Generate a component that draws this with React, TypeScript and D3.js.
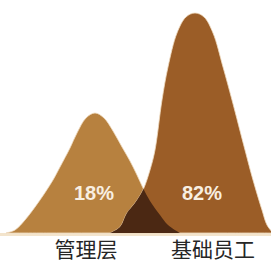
import React, { useEffect, useRef } from "react";
import * as d3 from "d3";

// categories and their shares
const categories = ["管理层", "基础员工"];
const shares = [18, 82];

// curve profiles: position along the axis -> height
const mgmtX = [6, 15, 25, 40, 53, 60, 70, 77, 86, 95, 104, 113, 122, 130, 137, 143, 150, 160, 168, 180];
const mgmtH = [0, 3, 13, 33, 53, 66, 85, 100, 115, 120, 115, 102, 86, 72, 58, 45, 32, 18, 8, 0];

const staffX = [110, 120, 127, 135, 143, 150, 155, 162, 168, 177, 186, 195, 204, 213, 223, 232, 245, 253, 262, 267, 273];
const staffH = [0, 6, 20, 30, 43, 63, 83, 133, 166, 200, 216, 220, 216, 200, 166, 133, 83, 53, 23, 8, 0];

// where each label sits along the axis
const labelPos = [94, 202];
const catPos = [86, 213];

const colors = ["#b7813f", "#9b5d27"];
const overlapColor = "#4b2813";

export default function App() {
  const ref = useRef<SVGSVGElement>(null);

  useEffect(() => {
    const w = 271;
    const svg = d3.select(ref.current);
    svg.selectAll("*").remove();

    const x = d3.scaleLinear().domain([0, 271]).range([0, w]);
    const y = d3.scaleLinear().domain([0, 220]).range([233, 13]);

    const area = d3.area<[number, number]>()
      .x(d => x(d[0]))
      .y0(y(0))
      .y1(d => y(d[1]))
      .curve(d3.curveCatmullRom.alpha(0.5));

    const mgmt = mgmtX.map((v, i) => [v, mgmtH[i]] as [number, number]);
    const staff = staffX.map((v, i) => [v, staffH[i]] as [number, number]);

    svg.append("defs")
      .append("clipPath")
      .attr("id", "mgmtClip")
      .append("path")
      .attr("d", area(mgmt));

    // baseline highlight
    svg.append("rect")
      .attr("x", x(0))
      .attr("y", y(0))
      .attr("width", w)
      .attr("height", 3)
      .attr("fill", "#f3e4cc");

    svg.append("path")
      .attr("d", area(mgmt))
      .attr("fill", colors[0])
      .attr("stroke", "#f0dcc0")
      .attr("stroke-width", 0.8);

    svg.append("path")
      .attr("d", area(staff))
      .attr("fill", colors[1])
      .attr("stroke", "#f0dcc0")
      .attr("stroke-width", 0.8);

    svg.append("path")
      .attr("d", area(staff))
      .attr("clip-path", "url(#mgmtClip)")
      .attr("fill", overlapColor);

    svg.selectAll("text.pct")
      .data(shares)
      .enter()
      .append("text")
      .attr("class", "pct")
      .attr("x", (d, i) => x(labelPos[i]))
      .attr("y", 200)
      .attr("text-anchor", "middle")
      .attr("font-family", "Liberation Sans, Arial, sans-serif")
      .attr("font-weight", "bold")
      .attr("font-size", 20)
      .attr("fill", "#f8efe2")
      .text(d => d + "%");

    svg.selectAll("text.cat")
      .data(categories)
      .enter()
      .append("text")
      .attr("class", "cat")
      .attr("x", (d, i) => x(catPos[i]))
      .attr("y", 257)
      .attr("text-anchor", "middle")
      .attr("font-family", "Noto Sans CJK SC, sans-serif")
      .attr("font-size", 21)
      .attr("fill", "#262626")
      .text(d => d);
  }, []);

  return (
    <svg
      ref={ref}
      width={271}
      height={262}
      style={{ position: "absolute", left: 0, top: 0, background: "#ffffff" }}
    />
  );
}
